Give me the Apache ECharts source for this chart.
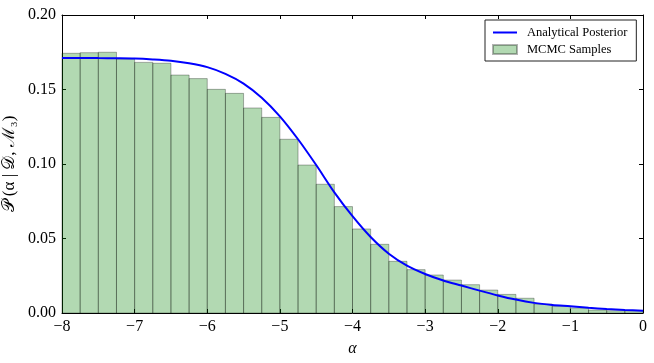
<!DOCTYPE html>
<html>
<head>
<meta charset="utf-8">
<script src="https://cdn.jsdelivr.net/npm/echarts@6/dist/echarts.min.js"></script>
<style>
html, body { margin: 0; padding: 0; background: #fff; }
#chart { width: 654px; height: 363px; }
</style>
</head>
<body>
<div id="chart"></div>
<script>
// histogram bins (width 0.25) and normalised heights
const binEdges = [-8, -7.75, -7.5, -7.25, -7, -6.75, -6.5, -6.25, -6, -5.75, -5.5, -5.25, -5,
  -4.75, -4.5, -4.25, -4, -3.75, -3.5, -3.25, -3, -2.75, -2.5, -2.25, -2, -1.75, -1.5,
  -1.25, -1, -0.75, -0.5, -0.25, 0]
const binHeights = [0.1743, 0.1747, 0.1750, 0.1705, 0.1682, 0.1676, 0.1597, 0.1573, 0.1501,
  0.1474, 0.1376, 0.1313, 0.1166, 0.0993, 0.0864, 0.0714, 0.0564, 0.0461, 0.0347, 0.0291,
  0.0255, 0.0221, 0.0190, 0.0154, 0.0125, 0.0099, 0.0060, 0.0045, 0.0034, 0.0020, 0.0015, 0.0015]
// analytical posterior curve
const curveX = [-8, -7.75, -7.5, -7.25, -7, -6.75, -6.5, -6.25, -6, -5.75, -5.5, -5.25, -5,
  -4.75, -4.5, -4.25, -4, -3.75, -3.5, -3.25, -3, -2.75, -2.5, -2.25, -2, -1.75, -1.5,
  -1.25, -1, -0.75, -0.5, -0.25, 0]
const curveY = [0.1712, 0.1712, 0.1711, 0.1710, 0.1708, 0.1702, 0.1693, 0.1676, 0.1650,
  0.1605, 0.1540, 0.1445, 0.1320, 0.1166, 0.0993, 0.0810, 0.0650, 0.0510, 0.0398, 0.0318,
  0.0262, 0.0218, 0.0184, 0.0150, 0.0118, 0.0090, 0.0068, 0.0054, 0.0045, 0.0035, 0.0027,
  0.0020, 0.0015]
const xTicks = [-8, -7, -6, -5, -4, -3, -2, -1, 0]
const yTicks = [0.00, 0.05, 0.10, 0.15, 0.20]

const font = "'Liberation Serif', 'DejaVu Serif', serif"
const histData = binHeights.map((h, i) => [binEdges[i], binEdges[i + 1], h])
const lineData = curveX.map((x, i) => [x, curveY[i]])

const chart = echarts.init(document.getElementById('chart'))

const tickStyle = { show: true, inside: true, length: 4, lineStyle: { color: '#000', width: 1 } }
const lineStyle = { show: true, onZero: false, lineStyle: { color: '#000', width: 1 } }

// thin line icon, padded top/bottom with empty segments so it is not stretched
const lineIcon = 'path://M0,0L24,0L24,0Z M0,3.6L24,3.6L24,5.4L0,5.4Z M0,9L24,9L24,9Z'

const option = {
  animation: false,
  backgroundColor: '#fff',
  grid: { left: 62, right: 11, top: 15, bottom: 50, outerBoundsMode: 'none', containLabel: false },
  legend: {
    orient: 'vertical',
    left: 485,
    top: 20,
    padding: [6, 9, 5, 7],
    itemGap: 4,
    itemWidth: 24,
    itemHeight: 9,
    borderColor: '#222',
    borderWidth: 1,
    textStyle: { fontFamily: font, fontSize: 12.5, color: '#000', padding: [0, 0, 0, 5] },
    data: [
      { name: 'Analytical Posterior', icon: lineIcon, itemStyle: { color: '#0000ff', borderWidth: 0 } },
      { name: 'MCMC Samples', icon: 'rect' }
    ]
  },
  xAxis: [
    {
      type: 'value', min: xTicks[0], max: xTicks[xTicks.length - 1], interval: 1,
      name: 'α', nameLocation: 'middle', nameGap: 28, nameMoveOverlap: false,
      nameTextStyle: { fontFamily: font, fontSize: 16, fontStyle: 'italic', color: '#000' },
      axisLine: lineStyle, axisTick: tickStyle, splitLine: { show: false },
      axisLabel: {
        fontFamily: font, fontSize: 16, color: '#000', margin: 6,
        formatter: v => v < 0 ? '\u2212' + (-v) : String(v)
      }
    },
    {
      type: 'value', position: 'top', min: xTicks[0], max: xTicks[xTicks.length - 1], interval: 1,
      axisLine: lineStyle, axisTick: tickStyle, splitLine: { show: false }, axisLabel: { show: false }
    }
  ],
  yAxis: [
    {
      type: 'value', min: yTicks[0], max: yTicks[yTicks.length - 1], interval: 0.05,
      name: '\u{1D4AB} (α | \u{1D49F}, \u2133\u2083)', nameLocation: 'middle', nameGap: 44,
      nameMoveOverlap: false,
      nameTextStyle: { fontFamily: font, fontSize: 17, color: '#000' },
      axisLine: lineStyle, axisTick: tickStyle, splitLine: { show: false },
      axisLabel: {
        fontFamily: font, fontSize: 16, color: '#000', margin: 6,
        formatter: v => v.toFixed(2)
      }
    },
    {
      type: 'value', position: 'right', min: yTicks[0], max: yTicks[yTicks.length - 1], interval: 0.05,
      axisLine: lineStyle, axisTick: tickStyle, splitLine: { show: false }, axisLabel: { show: false }
    }
  ],
  series: [
    {
      name: 'MCMC Samples',
      type: 'custom',
      xAxisIndex: 0,
      yAxisIndex: 0,
      encode: { x: [0, 1], y: 2 },
      itemStyle: { color: 'rgba(0,128,0,0.3)', borderColor: 'rgba(0,0,0,0.3)', borderWidth: 1 },
      renderItem: function (params, api) {
        const p0 = api.coord([api.value(0), api.value(2)])
        const p1 = api.coord([api.value(1), 0])
        return {
          type: 'rect',
          shape: { x: p0[0], y: p0[1], width: p1[0] - p0[0], height: p1[1] - p0[1] },
          style: { fill: 'rgba(0,128,0,0.3)', stroke: 'rgba(0,0,0,0.3)', lineWidth: 1 }
        }
      },
      data: histData,
      z: 1
    },
    {
      name: 'Analytical Posterior',
      type: 'line',
      xAxisIndex: 0,
      yAxisIndex: 0,
      symbol: 'none',
      smooth: 0.3,
      lineStyle: { color: '#0000ff', width: 2 },
      itemStyle: { color: '#0000ff' },
      data: lineData,
      z: 3
    }
  ]
}
chart.setOption(option)
</script>
</body>
</html>
